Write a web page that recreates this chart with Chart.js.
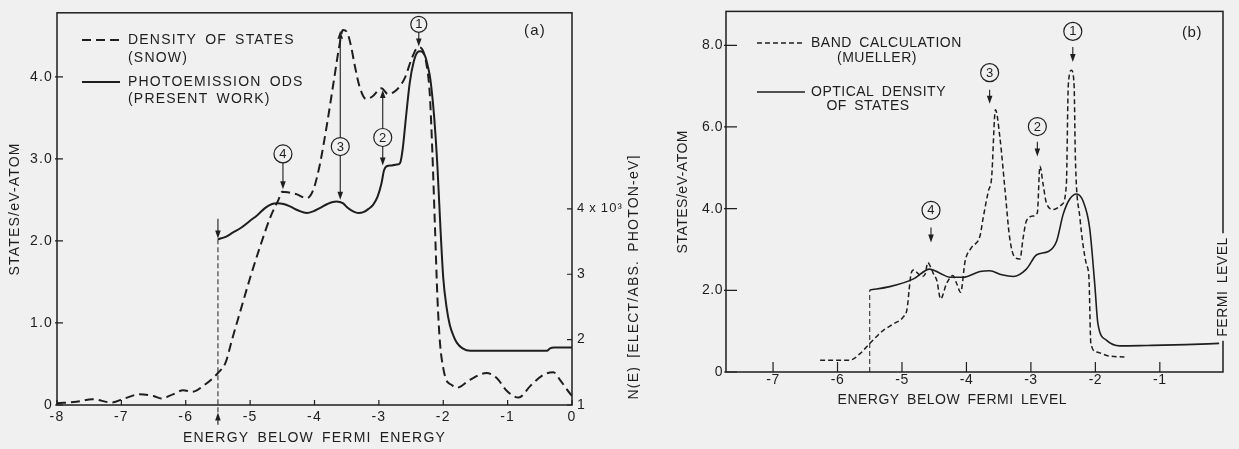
<!DOCTYPE html>
<html><head><meta charset="utf-8">
<script src="https://cdn.jsdelivr.net/npm/chart.js@4.4.1/dist/chart.umd.min.js"></script>
<style>
html,body{margin:0;padding:0;background:#f0f0f0;}
#wrap{position:relative;width:1239px;height:449px;overflow:hidden;}
#ca{position:absolute;left:0;top:0;}
#cb{position:absolute;left:640px;top:0;}
</style></head><body>
<div id="wrap">
<canvas id="ca" width="640" height="449"></canvas>
<canvas id="cb" width="599" height="449"></canvas>
</div>
<script>
// ---------- Panel (a) data ----------
const snowX = [-8, -7.7, -7.45, -7.15, -6.95, -6.72, -6.5, -6.38, -6.2, -6.04, -5.9, -5.7, -5.5, -5.38, -5.28, -5.15, -5.0, -4.85, -4.68, -4.56, -4.5, -4.4, -4.28, -4.12, -4.02, -3.92, -3.8, -3.7, -3.62, -3.56, -3.5, -3.44, -3.37, -3.3, -3.2, -3.1, -2.96, -2.86, -2.74, -2.6, -2.5, -2.42, -2.37, -2.31, -2.26, -2.21, -2.17, -2.13, -2.09, -2.05, -2.0, -1.95, -1.88, -1.79, -1.58, -1.33, -1.17, -1.01, -0.83, -0.65, -0.44, -0.29, -0.19, -0.08, 0];
const snowY = [0.02, 0.04, 0.07, 0.03, 0.08, 0.13, 0.11, 0.08, 0.13, 0.18, 0.16, 0.25, 0.39, 0.52, 0.80, 1.15, 1.55, 1.92, 2.30, 2.50, 2.60, 2.59, 2.57, 2.52, 2.62, 2.92, 3.45, 3.95, 4.35, 4.57, 4.55, 4.40, 4.12, 3.88, 3.73, 3.76, 3.86, 3.79, 3.83, 3.98, 4.2, 4.34, 4.36, 4.31, 4.15, 3.8, 3.1, 2.2, 1.3, 0.75, 0.45, 0.30, 0.25, 0.21, 0.31, 0.39, 0.33, 0.17, 0.09, 0.23, 0.37, 0.40, 0.31, 0.19, 0.11];
const odsAX = [-5.5, -5.38, -5.27, -5.14, -5.01, -4.88, -4.77, -4.66, -4.58, -4.48, -4.38, -4.25, -4.12, -4.02, -3.92, -3.8, -3.66, -3.56, -3.48, -3.4, -3.32, -3.24, -3.16, -3.09, -3.02, -2.96, -2.92, -2.88, -2.8, -2.72, -2.67, -2.63, -2.58, -2.52, -2.46, -2.40, -2.36, -2.32, -2.28, -2.24, -2.2, -2.14, -2.09, -2.04, -2.0, -1.95, -1.9, -1.84, -1.79, -1.7, -1.58, -1.2, -0.8, -0.39, -0.34, -0.28, 0];
const odsAY = [2.02, 2.05, 2.10, 2.16, 2.24, 2.32, 2.40, 2.45, 2.46, 2.45, 2.42, 2.37, 2.34, 2.36, 2.40, 2.45, 2.48, 2.46, 2.40, 2.36, 2.34, 2.35, 2.39, 2.44, 2.54, 2.70, 2.86, 2.91, 2.92, 2.93, 2.95, 3.12, 3.50, 3.93, 4.18, 4.30, 4.31, 4.30, 4.25, 4.13, 3.97, 3.50, 2.90, 2.10, 1.55, 1.20, 0.98, 0.84, 0.76, 0.69, 0.66, 0.66, 0.66, 0.66, 0.69, 0.70, 0.70];
const aXTicks = [-8, -7, -6, -5, -4, -3, -2, -1, 0];
const aXLabels = ['-8', '-7', '-6', '-5', '-4', '-3', '-2', '-1', '0'];
const aYTicks = [0, 1, 2, 3, 4];
const aYLabels = ['0', '1.0', '2.0', '3.0', '4.0'];
const aY2Ticks = [1, 2, 3, 4];
const aY2Labels = ['1', '2', '3', '4\u2009x\u200910\u00B3'];

// ---------- Panel (b) data ----------
const bandX = [-6.27, -5.81, -5.65, -5.5, -5.29, -5.13, -4.98, -4.92, -4.89, -4.86, -4.82, -4.77, -4.69, -4.64, -4.6, -4.55, -4.51, -4.46, -4.40, -4.31, -4.21, -4.15, -4.09, -4.02, -3.92, -3.79, -3.74, -3.66, -3.61, -3.55, -3.48, -3.40, -3.33, -3.25, -3.17, -3.12, -3.07, -2.96, -2.90, -2.86, -2.81, -2.76, -2.65, -2.52, -2.45, -2.42, -2.37, -2.33, -2.31, -2.24, -2.14, -2.10, -2.07, -1.98, -1.78, -1.55];
const bandY = [0.29, 0.29, 0.45, 0.70, 1.02, 1.18, 1.35, 1.55, 2.0, 2.40, 2.50, 2.44, 2.34, 2.40, 2.68, 2.55, 2.40, 2.24, 1.79, 2.16, 2.36, 2.16, 1.95, 2.72, 3.05, 3.33, 3.78, 4.43, 4.75, 6.42, 5.73, 4.43, 3.29, 2.81, 2.77, 3.29, 3.70, 3.82, 3.90, 5.04, 4.59, 4.14, 3.98, 4.10, 4.59, 7.02, 7.39, 7.02, 5.24, 3.78, 2.64, 2.32, 0.70, 0.49, 0.39, 0.37];
const odsBX = [-5.5, -5.19, -4.82, -4.57, -4.41, -4.26, -4.05, -3.79, -3.64, -3.45, -3.27, -3.07, -2.91, -2.73, -2.60, -2.50, -2.40, -2.29, -2.19, -2.09, -2.01, -1.96, -1.83, -1.62, -1.2, -0.6, -0.08];
const odsBY = [2.01, 2.09, 2.28, 2.52, 2.42, 2.32, 2.32, 2.46, 2.48, 2.38, 2.34, 2.52, 2.87, 2.95, 3.21, 3.86, 4.23, 4.36, 4.18, 3.54, 2.16, 1.18, 0.78, 0.64, 0.65, 0.67, 0.70];
const bXTicks = [-7, -6, -5, -4, -3, -2, -1];
const bXLabels = ['-7', '-6', '-5', '-4', '-3', '-2', '-1'];
const bYTicks = [0, 2, 4, 6, 8];
const bYLabels = ['0', '2.0', '4.0', '6.0', '8.0'];

// ---------- styling ----------
const INK = '#1e1e1e';
const BG = '#f0f0f0';
const FONT = "'Liberation Sans', Arial, sans-serif";
Chart.defaults.font.family = FONT;
Chart.defaults.font.size = 14;
Chart.defaults.color = INK;
Chart.defaults.animation = false;

function pts(xs, ys) { return xs.map((x, i) => ({x: x, y: ys[i]})); }
function fixed(vals, labels) {
  return {
    afterBuildTicks: s => { s.ticks = vals.map(v => ({value: v})); },
    cb: v => { const i = vals.findIndex(t => Math.abs(t - v) < 1e-9); return i < 0 ? '' : labels[i]; }
  };
}

function overlay(spec) {
  return {
    id: 'overlay',
    beforeDraw(chart) { chart.ctx.letterSpacing = spec.ls; chart.ctx.wordSpacing = spec.ws; },
    afterDraw(chart) {
      const ctx = chart.ctx, a = chart.chartArea;
      const xs = chart.scales.x, ys = chart.scales.y;
      const X = v => xs.getPixelForValue(v), Y = v => ys.getPixelForValue(v);
      ctx.save();
      ctx.strokeStyle = INK; ctx.fillStyle = INK; ctx.setLineDash([]);
      // frame
      ctx.lineWidth = spec.frameW;
      ctx.strokeRect(a.left, a.top, a.right - a.left, a.bottom - a.top);
      // inward tick marks
      ctx.lineWidth = 1.2;
      ctx.beginPath();
      spec.xTicks.forEach(v => { ctx.moveTo(X(v), a.bottom); ctx.lineTo(X(v), a.bottom - spec.xTickLen); });
      spec.yTicks.forEach(v => { ctx.moveTo(a.left - 2, Y(v)); ctx.lineTo(a.left + spec.yTickLen, Y(v)); });
      if (spec.y2Ticks) {
        const y2 = chart.scales.y2;
        spec.y2Ticks.forEach(v => { const p = y2.getPixelForValue(v); ctx.moveTo(a.right, p); ctx.lineTo(a.right - spec.y2TickLen, p); });
      }
      ctx.stroke();
      // guide (vertical dashed line)
      if (spec.guide) {
        const g = spec.guide;
        ctx.lineWidth = 1; ctx.setLineDash(g.dash);
        ctx.beginPath(); ctx.moveTo(X(g.x), Y(g.from)); ctx.lineTo(X(g.x), Y(g.to)); ctx.stroke();
        ctx.setLineDash([]);
      }
      // arrows
      ctx.lineWidth = 1.1;
      spec.arrows.forEach(ar => {
        const x = X(ar.x), y0 = Y(ar.from), y1 = Y(ar.to);
        const dir = y1 > y0 ? 1 : -1;
        ctx.beginPath(); ctx.moveTo(x, y0); ctx.lineTo(x, y1 - dir * 4); ctx.stroke();
        ctx.beginPath(); ctx.moveTo(x, y1); ctx.lineTo(x - 2.8, y1 - dir * 8); ctx.lineTo(x + 2.8, y1 - dir * 8); ctx.closePath(); ctx.fill();
      });
      // numbered circles
      spec.circles.forEach(c => {
        const x = X(c.x), y = Y(c.y);
        ctx.beginPath(); ctx.arc(x, y, c.r, 0, Math.PI * 2);
        ctx.fillStyle = BG; ctx.fill();
        ctx.lineWidth = 1.2; ctx.strokeStyle = INK; ctx.stroke();
        ctx.fillStyle = INK;
        ctx.letterSpacing = '0px';
        ctx.font = '13px ' + FONT; ctx.textAlign = 'center'; ctx.textBaseline = 'middle';
        ctx.fillText(c.t, x, y + 0.5);
        ctx.letterSpacing = spec.ls;
      });
      // legend
      ctx.font = spec.legendFont;
      ctx.textBaseline = 'middle';
      spec.legend.forEach(it => {
        ctx.lineWidth = it.w; ctx.setLineDash(it.dash);
        ctx.beginPath(); ctx.moveTo(it.x1, it.y); ctx.lineTo(it.x2, it.y); ctx.stroke();
        ctx.setLineDash([]);
        it.lines.forEach(l => { ctx.textAlign = l.align; ctx.fillText(l.t, l.x, l.y); });
      });
      // panel tag
      ctx.font = '15px ' + FONT; ctx.textAlign = 'center';
      ctx.fillText(spec.tag.t, spec.tag.x, spec.tag.y);
      // rotated side texts
      spec.side.forEach(s => {
        ctx.save();
        ctx.translate(s.x, s.y); ctx.rotate(-Math.PI / 2);
        ctx.font = '14px ' + FONT; ctx.textAlign = 'center'; ctx.textBaseline = 'middle';
        if (s.cut) {
          const w = ctx.measureText(s.t).width;
          ctx.fillStyle = BG; ctx.fillRect(-w / 2 - 4, -9, w + 8, 18); ctx.fillStyle = INK;
        }
        ctx.fillText(s.t, 0, 0);
        ctx.restore();
      });
      ctx.restore();
    }
  };
}

// ---------- Chart (a) ----------
const fxA = fixed(aXTicks, aXLabels), fyA = fixed(aYTicks, aYLabels), fy2A = fixed(aY2Ticks, aY2Labels);
new Chart(document.getElementById('ca'), {
  type: 'line',
  data: { datasets: [
    { label: 'DENSITY OF STATES (SNOW)', data: pts(snowX, snowY), borderColor: INK, borderWidth: 2, borderDash: [9, 5], pointRadius: 0, cubicInterpolationMode: 'monotone', fill: false, yAxisID: 'y' },
    { label: 'PHOTOEMISSION ODS (PRESENT WORK)', data: pts(odsAX, odsAY), borderColor: INK, borderWidth: 2, pointRadius: 0, cubicInterpolationMode: 'monotone', fill: false, yAxisID: 'y' }
  ]},
  options: {
    responsive: false, animation: false, events: [],
    layout: { padding: { top: 9, left: 0, right: 0, bottom: 0 } },
    plugins: { legend: { display: false }, tooltip: { enabled: false } },
    scales: {
      x: { type: 'linear', position: 'bottom', min: -8, max: 0,
        afterBuildTicks: fxA.afterBuildTicks,
        ticks: { callback: fxA.cb, autoSkip: false, maxRotation: 0, padding: 3.5 },
        grid: { display: false, drawTicks: false }, border: { display: false },
        title: { display: true, text: 'ENERGY BELOW FERMI ENERGY', padding: { top: 0, bottom: 2.6 } },
        afterFit: s => { s.height = 44; } },
      y: { type: 'linear', position: 'left', min: 0, max: 4.78,
        afterBuildTicks: fyA.afterBuildTicks,
        ticks: { callback: fyA.cb, autoSkip: false, padding: 4 },
        grid: { display: false, drawTicks: false }, border: { display: false },
        title: { display: true, text: 'STATES/eV-ATOM', padding: { top: 6.6, bottom: 0 } },
        afterFit: s => { s.width = 57; } },
      y2: { type: 'linear', position: 'right', min: 1, max: 7,
        afterBuildTicks: fy2A.afterBuildTicks,
        ticks: { callback: fy2A.cb, autoSkip: false, padding: 5,
          font: c => (c.tick && c.tick.value === 4) ? { size: 13 } : { size: 14 } },
        grid: { display: false, drawTicks: false }, border: { display: false },
        afterFit: s => { s.width = 68; } }
    }
  },
  plugins: [overlay({
    ls: '1.2px', ws: '3px', frameW: 1.5,
    xTicks: aXTicks, xTickLen: 5, yTicks: aYTicks, yTickLen: 6, y2Ticks: aY2Ticks, y2TickLen: 5,
    guide: { x: -5.5, from: 2.02, to: -0.12, dash: [5, 3] },
    arrows: [
      { x: -4.49, from: 2.95, to: 2.63 },
      { x: -3.60, from: 3.26, to: 4.56 }, { x: -3.60, from: 3.04, to: 2.50 },
      { x: -2.94, from: 3.37, to: 3.84 }, { x: -2.94, from: 3.15, to: 2.92 },
      { x: -2.38, from: 4.54, to: 4.37 },
      { x: -5.5, from: 2.27, to: 2.03 }, { x: -5.5, from: -0.24, to: -0.09 }
    ],
    circles: [
      { t: '4', x: -4.49, y: 3.06, r: 9 }, { t: '3', x: -3.60, y: 3.15, r: 9 },
      { t: '2', x: -2.94, y: 3.26, r: 9 }, { t: '1', x: -2.38, y: 4.64, r: 8 }
    ],
    legendFont: '14px ' + FONT,
    legend: [
      { x1: 82, x2: 120, y: 40, w: 2, dash: [9, 5], lines: [{ t: 'DENSITY OF STATES', x: 128, y: 40, align: 'left' }, { t: '(SNOW)', x: 128, y: 58, align: 'left' }] },
      { x1: 82, x2: 120, y: 82, w: 2, dash: [], lines: [{ t: 'PHOTOEMISSION ODS', x: 128, y: 82, align: 'left' }, { t: '(PRESENT WORK)', x: 128, y: 99, align: 'left' }] }
    ],
    tag: { t: '(a)', x: 535, y: 31 },
    side: [{ t: 'N(E) [ELECT/ABS. PHOTON-eV]', x: 634, y: 277, cut: false }]
  })]
});

// ---------- Chart (b) ----------
const fxB = fixed(bXTicks, bXLabels), fyB = fixed(bYTicks, bYLabels);
new Chart(document.getElementById('cb'), {
  type: 'line',
  data: { datasets: [
    { label: 'BAND CALCULATION (MUELLER)', data: pts(bandX, bandY), borderColor: INK, borderWidth: 1.5, borderDash: [5, 3], pointRadius: 0, cubicInterpolationMode: 'monotone', fill: false },
    { label: 'OPTICAL DENSITY OF STATES', data: pts(odsBX, odsBY), borderColor: INK, borderWidth: 1.6, pointRadius: 0, cubicInterpolationMode: 'monotone', fill: false }
  ]},
  options: {
    responsive: false, animation: false, events: [],
    layout: { padding: { top: 9, left: 0, right: 16, bottom: 0 } },
    plugins: { legend: { display: false }, tooltip: { enabled: false } },
    scales: {
      x: { type: 'linear', position: 'bottom', min: -7.73, max: -0.02,
        afterBuildTicks: fxB.afterBuildTicks,
        ticks: { callback: fxB.cb, autoSkip: false, maxRotation: 0, padding: 0 },
        grid: { display: false, drawTicks: false }, border: { display: false },
        title: { display: true, text: 'ENERGY BELOW FERMI LEVEL      ', padding: { top: 0, bottom: 40.6 } },
        afterFit: s => { s.height = 77; } },
      y: { type: 'linear', position: 'left', min: 0, max: 8.83,
        afterBuildTicks: fyB.afterBuildTicks,
        ticks: { callback: fyB.cb, autoSkip: false, padding: 3 },
        grid: { display: false, drawTicks: false }, border: { display: false },
        title: { display: true, text: 'STATES/eV-ATOM', padding: { top: 34.6, bottom: 0 } },
        afterFit: s => { s.width = 86; } }
    }
  },
  plugins: [overlay({
    ls: '0.5px', ws: '3px', frameW: 1.5,
    xTicks: bXTicks, xTickLen: 10, yTicks: bYTicks, yTickLen: 11, y2Ticks: null,
    guide: { x: -5.5, from: 0, to: 2.01, dash: [5, 3] },
    arrows: [
      { x: -2.35, from: 7.96, to: 7.59 }, { x: -3.64, from: 6.91, to: 6.57 },
      { x: -2.90, from: 5.64, to: 5.28 }, { x: -4.55, from: 3.54, to: 3.17 }
    ],
    circles: [
      { t: '1', x: -2.35, y: 8.34, r: 9 }, { t: '3', x: -3.64, y: 7.33, r: 9 },
      { t: '2', x: -2.90, y: 6.01, r: 9 }, { t: '4', x: -4.55, y: 3.96, r: 9 }
    ],
    legendFont: '14px ' + FONT,
    legend: [
      { x1: 117, x2: 165, y: 43, w: 1.5, dash: [5, 3], lines: [{ t: 'BAND CALCULATION', x: 171, y: 43, align: 'left' }, { t: '(MUELLER)', x: 237, y: 58, align: 'center' }] },
      { x1: 117, x2: 165, y: 92, w: 1.6, dash: [], lines: [{ t: 'OPTICAL DENSITY', x: 171, y: 92, align: 'left' }, { t: 'OF STATES', x: 228, y: 106, align: 'center' }] }
    ],
    tag: { t: '(b)', x: 552, y: 33 },
    side: [{ t: 'FERMI LEVEL', x: 583, y: 287, cut: true }]
  })]
});
</script>
</body></html>
